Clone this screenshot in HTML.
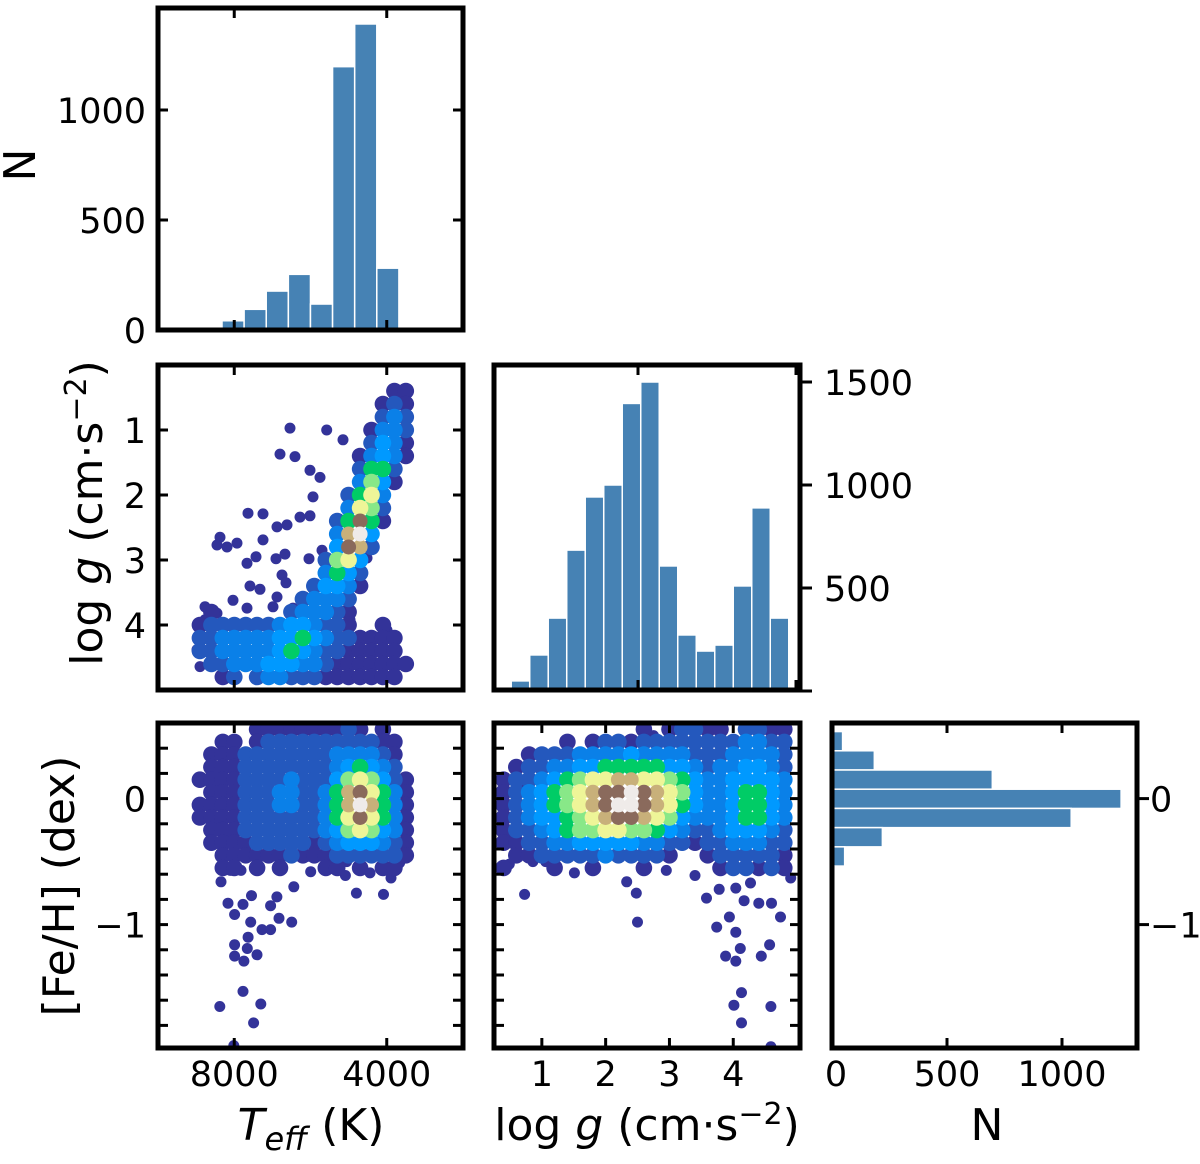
<!DOCTYPE html>
<html><head><meta charset="utf-8"><style>
html,body{margin:0;padding:0;background:#fff;}
svg{display:block;font-family:"DejaVu Sans","Liberation Sans",sans-serif;}
</style></head><body>
<svg id="fig" width="1200" height="1164" viewBox="0 0 1200 1164" xmlns="http://www.w3.org/2000/svg">
<g id="marks"></g>
<g id="frames"></g>
<g id="labels" font-size="35" fill="#000"></g>
</svg>
<script>
// ---------- DATA ----------
const teffBinStart = 8321, teffBinWidth = 580;
const teffCounts = [42, 94, 177, 253, 118, 1197, 1391, 281];
const loggBinStart = 0.52, loggBinWidth = 0.29;
const loggCounts = [49, 175, 354, 684, 942, 1000, 1396, 1500, 607, 272, 194, 223, 510, 889, 354];
const fehBinTop = 0.532, fehBinWidth = 0.1525;
const fehCounts = [46, 184, 697, 1257, 1040, 219, 55, 10];

// density grids: digit = density level 0-9, '.' = no star
const p2Teff = [9200,8900,8600,8300,8000,7700,7400,7100,6800,6500,6200,5900,5600,5300,5000,4700,4400,4100,3800,3500];
const p2Logg = [0.4,0.6,0.8,1.0,1.2,1.4,1.6,1.8,2.0,2.2,2.4,2.6,2.8,3.0,3.2,3.4,3.6,3.8,4.0,4.2,4.4,4.6,4.8];
const p2Dens = [
"..................00",".................010",".................121","................0221",
"................1320","...............02320","...............1441.","...............2530.",
"..............1462..","..............2651..",".............14840..",".............2793...",
".............3871...","............1563....","............2431....","...........13320....",
"..........12221.....","..0......122210.....",".01111112332110..0..",".112222233432110000.",
".112222234321100000.","..112223332210000000","...01.1221110000000."];
const p2Outliers = [[6537,0.97],[5575,1.0],[6800,1.37],[6406,1.41],[6013,1.62],[5750,1.73],[5934,2.03],[7639,2.28],[7245,2.29],[8374,2.65],[8452,2.77],[8190,2.8],[7928,2.74],[7245,2.69],[6879,2.49],[6275,2.34],[6013,2.32],[6616,2.46],[7665,3.05],[7430,2.95],[6905,2.98],[6669,2.91],[6039,2.98],[5698,2.85],[6747,3.23],[6642,3.35],[7587,3.4],[7324,3.45],[6879,3.57],[8033,3.62],[8767,3.72],[8452,3.82],[8767,3.92],[8898,4.03],[8977,4.38],[8898,4.64],[3993,4.08],[4964,3.92],[5147,4.18],[6459,3.74],[6983,3.72],[7665,3.74],[5147,1.15],[4098,2.34],[4387,2.74],[4518,2.97],[3800,0.45],[3700,0.5]];

const p4Teff = [9200,8900,8600,8300,8000,7700,7400,7100,6800,6500,6200,5900,5600,5300,5000,4700,4400,4100,3800,3500];
const p4FeH = [0.55,0.45,0.35,0.25,0.15,0.05,-0.05,-0.15,-0.25,-0.35,-0.45,-0.55];
const p4Dens = [
"......0000000010.0..","...00.0111111111100.","..00011111111222210.","..00011111111234321.",
".0000111121113565310","..000111221124786420",".0000111221124797420",".0000111111124686420",
"..000111111123565320","..000011111012333210","...00000010001111110","...00.0.0...00.0.00."];
const p4Outliers = [[8379,-1.65],[7303,-1.63],[7492,-1.78],[7770,-1.53],[8012,-1.96],[7991,-1.25],[7747,-1.29],[7403,-1.24],[7991,-1.16],[7658,-1.19],[7637,-1.1],[7272,-1.04],[7046,-1.04],[7568,-0.98],[6826,-0.95],[6493,-0.98],[7991,-0.92],[8164,-0.83],[7770,-0.84],[7046,-0.85],[7547,-0.77],[6881,-0.78],[8347,-0.66],[6438,-0.7],[4796,-0.75],[4085,-0.76],[5085,-0.61],[3888,-0.63],[4439,-0.59],[8100,-0.57],[7823,-0.57],[7380,-0.57],[8164,-0.34],[8458,-0.21],[8434,0.1],[8434,0.16],[7991,0.43],[7435,0.37],[5717,0.56],[4053,0.49],[4053,0.45],[3553,-0.18],[3776,0.11],[5331,-0.5],[5050,-0.5],[5995,-0.58],[6105,-0.46],[5606,-0.34],[3888,-0.54],[3663,-0.51]];

const p5Logg = [0.4,0.6,0.8,1.0,1.2,1.4,1.6,1.8,2.0,2.2,2.4,2.6,2.8,3.0,3.2,3.4,3.6,3.8,4.0,4.2,4.4,4.6,4.8];
const p5FeH = [0.55,0.45,0.35,0.25,0.15,0.05,-0.05,-0.15,-0.25,-0.35,-0.45,-0.55];
const p5Dens = [
"...........0.01100.1100",".....0.0110111111112211","..011122223222211122221",".0112233444443321223321",
"01123456677665432233332","01234567889876532234432","01234567899876432234432","01233456788765322234432",
"01123455665543211233321","00112233333221101122211",".0011111211110..0111110","0...0..0...0.....011010"];
const p5Outliers = [[0.73,-0.76],[1.51,-0.59],[2.33,-0.66],[2.48,-0.75],[2.5,-0.98],[2.95,-0.57],[3.4,-0.61],[3.58,-0.79],[3.74,-1.02],[4.04,-1.06],[3.94,-0.94],[4.11,-1.19],[3.88,-1.25],[4.04,-1.29],[4.57,-1.16],[4.44,-1.25],[4.13,-1.54],[4.01,-1.64],[4.59,-1.65],[4.13,-1.78],[4.59,-1.97],[4.74,-0.94],[4.4,-0.83],[4.6,-0.83],[4.17,-0.81],[3.78,-0.72],[4.04,-0.71],[4.27,-0.67],[4.9,-0.63],[4.8,-0.5],[0.49,-0.52],[0.69,0.11],[0.99,0.23],[0.56,-0.29],[0.86,-0.5],[1.06,-0.5],[2.37,0.43],[2.75,0.5]];

// ---------- AXES ----------
const tx = T => 158 + (10000 - T) / 8000 * 305;
const gy = g => 365 + g * 65;
const fy = F => 723 + (0.6 - F) * 126;
const gx = g => 494 + (g - 0.25) * 63.8;
const ny1 = n => 330 - n * 0.22;
const ny3 = n => 691 - n * 0.206;
const nx6 = n => 832 + n * 0.23;

const palette = ["#333399","#2458bd","#0a80e8","#0099ff","#00cc66","#88e888","#eef598","#c8b07a","#8a6a5c","#efebe9"];
const NS = "http://www.w3.org/2000/svg";
const marks = document.getElementById('marks');
const frames = document.getElementById('frames');
const labels = document.getElementById('labels');
function mk(tag, attrs, parent){ const e=document.createElementNS(NS,tag); for(const k in attrs) e.setAttribute(k,attrs[k]); parent.appendChild(e); return e; }

const defs = mk('defs',{},document.getElementById('fig'));
[['c2',158,365],['c4',158,723],['c5',494,723]].forEach(([id,x,y])=>{
  const cp=mk('clipPath',{id:id},defs); mk('rect',{x:x,y:y,width:(id==='c5'?306:305),height:325},cp);
});

// ---- histograms ----
teffCounts.forEach((c,i)=>{
  const a=teffBinStart - i*teffBinWidth, b=a-teffBinWidth;
  const r=mk('rect',{x:tx(a),y:ny1(c),width:tx(b)-tx(a),height:ny1(0)-ny1(c),fill:'#4682b4',stroke:'#fff','stroke-width':1.5},marks);
  
  
});
loggCounts.forEach((c,i)=>{
  const a=loggBinStart + i*loggBinWidth, b=a+loggBinWidth;
  const r=mk('rect',{x:gx(a),y:ny3(c),width:gx(b)-gx(a),height:ny3(0)-ny3(c),fill:'#4682b4',stroke:'#fff','stroke-width':1.5},marks);
  
  
});
fehCounts.forEach((c,i)=>{
  const a=fehBinTop - i*fehBinWidth, b=a-fehBinWidth;
  const r=mk('rect',{x:nx6(0),y:fy(a),width:nx6(c)-nx6(0),height:fy(b)-fy(a),fill:'#4682b4',stroke:'#fff','stroke-width':1.5},marks);
  
  
});

// ---- scatter ----
function scatter(clip, xs, ys, dens, outl, fx, fyy, name){
  const g=mk('g',{'clip-path':'url(#'+clip+')'},marks);
  
  
  const pts=[];
  outl.forEach(p=>pts.push([fx(p[0]),fyy(p[1]),0,5.5]));
  dens.forEach((row,j)=>{ for(let i=0;i<row.length;i++){ const ch=row[i]; if(ch==='.') continue; pts.push([fx(xs[i]),fyy(ys[j]),+ch,+ch>=7?7.5:8.3]); } });
  pts.sort((a,b)=>a[2]-b[2]);
  pts.forEach(p=>{
    const c=mk('circle',{cx:p[0].toFixed(1),cy:p[1].toFixed(1),r:p[3],fill:palette[p[2]]},g);
    
    
  });
}
scatter('c2', p2Teff, p2Logg, p2Dens, p2Outliers, tx, gy, 'teff-logg-scatter');
scatter('c4', p4Teff, p4FeH, p4Dens, p4Outliers, tx, fy, 'teff-feh-scatter');
scatter('c5', p5Logg, p5FeH, p5Dens, p5Outliers, gx, fy, 'logg-feh-scatter');

// ---- frames & ticks ----
function frame(x,y,w,h,name){
  const r=mk('rect',{x:x,y:y,width:w,height:h,fill:'none',stroke:'#000','stroke-width':5},frames);
  
  
}
function tick(x1,y1,x2,y2){ mk('line',{x1:x1,y1:y1,x2:x2,y2:y2,stroke:'#000','stroke-width':3},frames); }
function xticks(xs,y0,y1){ xs.forEach(x=>{ tick(x,y0,x,y0+10); tick(x,y1,x,y1-10); }); }
function yticks(ys,x0,x1){ ys.forEach(y=>{ tick(x0,y,x0+10,y); tick(x1,y,x1-10,y); }); }
function text(s,x,y,anchor,name,size){
  const t=mk('text',{x:x,y:y,'text-anchor':anchor||'middle'},labels);
  if(size) t.setAttribute('font-size',size);
  t.textContent=s;
  
  
  return t;
}
const teffTicks=[8000,4000], teffTickLabels=['8000','4000'];
const loggTicks=[1,2,3,4], countTicks3=[0,500,1000,1500], countTicks1=[0,500,1000];
const fehMinor=[0.4,0.2,0,-0.2,-0.4,-0.6,-0.8,-1.0,-1.2,-1.4,-1.6,-1.8];

// P1
frame(158,8,305,322,'teff-hist-frame');
xticks(teffTicks.map(tx),8,330);
yticks([ny1(500),ny1(1000)],158,463);
countTicks1.forEach(n=>text(String(n),146,ny1(n)+13,'end','teff-hist-ytick'));
// P2
frame(158,365,305,325,'teff-logg-frame');
xticks(teffTicks.map(tx),365,690);
yticks(loggTicks.map(gy),158,463);
loggTicks.forEach(g=>text(String(g),146,gy(g)+13,'end','logg-ytick'));
// P3
frame(494,365,306,325,'logg-hist-frame');
xticks([638,796],365,690);
countTicks3.forEach(n=>{ tick(800,ny3(n),812,ny3(n)); if(n>0) text(String(n),824,ny3(n)+13,'start','logg-hist-ytick'); });
// P4
frame(158,723,305,325,'teff-feh-frame');
xticks(teffTicks.map(tx),723,1048);
yticks(fehMinor.map(fy),158,463);
[0,-1].forEach(F=>text(F===0?'0':'\u22121',146,fy(F)+13,'end','feh-ytick'));
teffTicks.forEach((T,i)=>text(teffTickLabels[i],tx(T),1086,'middle','teff-xtick'));
// P5
frame(494,723,306,325,'logg-feh-frame');
xticks(loggTicks.map(gx),723,1048);
yticks(fehMinor.map(fy),494,800);
loggTicks.forEach(g=>text(String(g),gx(g),1086,'middle','logg-xtick'));
// P6
frame(832,723,305,325,'feh-hist-frame');
xticks([nx6(500),nx6(1000)],723,1048);
[0,-1].forEach(F=>{ tick(1137,fy(F),1149,fy(F)); text(F===0?'0':'\u22121',1150,fy(F)+13,'start','feh-hist-ytick'); });
countTicks1.forEach(n=>text(String(n),nx6(n)+(n===0?4:0),1086,'middle','feh-hist-xtick'));

// axis titles
const t1=text('N',20,165,'middle','top-y-axis-title',44); t1.setAttribute('transform','rotate(-90 20 165) translate(0 15)');
const t2=mk('text',{x:87,y:513,'text-anchor':'middle','font-size':44,transform:'rotate(-90 87 513) translate(0 15)'},labels);
 
t2.innerHTML='log <tspan font-style="italic">g</tspan> (cm·s<tspan font-size="30" dy="-16">\u22122</tspan><tspan dy="16">)</tspan>';
const t3=text('[Fe/H] (dex)',59,886,'middle','feh-y-axis-title',44); t3.setAttribute('transform','rotate(-90 59 886) translate(0 15)');
const t4=mk('text',{x:311,y:1140,'text-anchor':'middle','font-size':44},labels);
 
t4.innerHTML='<tspan font-style="italic">T</tspan><tspan font-style="italic" font-size="32" dy="10">eff</tspan><tspan dy="-10"> (K)</tspan>';
const t5=mk('text',{x:647,y:1140,'text-anchor':'middle','font-size':44},labels);
 
t5.innerHTML='log <tspan font-style="italic">g</tspan> (cm·s<tspan font-size="30" dy="-16">\u22122</tspan><tspan dy="16">)</tspan>';
text('N',987,1140,'middle','count-x-axis-title',44);
</script>
</body></html>
